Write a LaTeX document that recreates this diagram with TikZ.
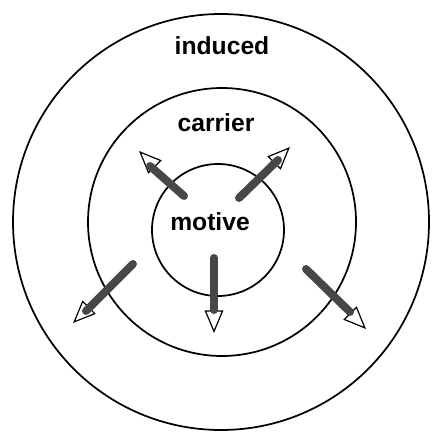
\documentclass[tikz,border=0pt]{standalone}
\usepackage{fontspec}
\setmainfont{Liberation Sans}
\usetikzlibrary{arrows.meta}
\begin{document}
\begin{tikzpicture}[x=0.75pt,y=-0.75pt,
  ring/.style={circle,draw,line width=1.3pt,inner sep=0pt},
  lbl/.style={font=\bfseries\fontsize{18.5}{18.5}\selectfont,anchor=base},
  shaft/.style={line width=6pt,draw=black!72,line cap=round},
  head/.style={line width=0.9pt,-{Triangle[open,length=17pt,width=14pt,line width=0.9pt]}}]
\useasboundingbox (0,0) rectangle (432,441);
\node[ring,minimum size=312pt] (outer) at (221,222) {};
\node[ring,minimum size=201pt] (middle) at (222,222) {};
\node[ring,minimum size=99pt] (inner) at (218,230) {};
\node[lbl] (induced) at (222,55) {induced};
\node[lbl] (carrier) at (216,132) {carrier};
\node[lbl] (motive) at (210,230) {motive};
% arrow 1 upper-left
\coordinate (a1s) at (184,196);
\coordinate (a1e) at (150,166);
\coordinate (a1t) at (139,151);
% arrow 2 upper-right
\coordinate (a2s) at (239,198);
\coordinate (a2e) at (278,160);
\coordinate (a2t) at (290,147);
% arrow 3 down
\coordinate (a3s) at (214,258);
\coordinate (a3e) at (214,310);
\coordinate (a3t) at (214,333);
% arrow 4 lower-left
\coordinate (a4s) at (133,264);
\coordinate (a4e) at (86,311);
\coordinate (a4t) at (73,323);
% arrow 5 lower-right
\coordinate (a5s) at (306,269);
\coordinate (a5e) at (350,312);
\coordinate (a5t) at (366,329);
\foreach \i in {1,...,5}{
  \draw[head] (a\i s) -- (a\i t);
  \draw[shaft] (a\i s) -- (a\i e);
}
\end{tikzpicture}
\end{document}
